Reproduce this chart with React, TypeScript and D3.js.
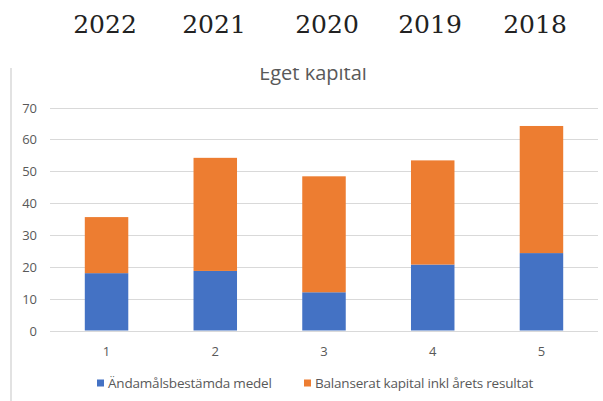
import React, { useEffect, useRef } from 'react';
import * as d3 from 'd3';

const years = ['2022', '2021', '2020', '2019', '2018'];
const categories = ['1', '2', '3', '4', '5'];
const seriesNames = ['Ändamålsbestämda medel', 'Balanserat kapital inkl årets resultat'];
const andamal = [18.0, 18.7, 12.0, 20.7, 24.3];
const balanserat = [17.6, 35.5, 36.4, 32.7, 39.9];
const yTicks = [0, 10, 20, 30, 40, 50, 60, 70];

const colors = ['#4472C4', '#ED7D31'];
// the year header is typed above the chart, not aligned with the bars
const yearCenters = [105, 214, 327, 430, 535];

const App = () => {
  const svgRef = useRef<SVGSVGElement>(null);

  useEffect(() => {
    const svg = d3.select(svgRef.current);
    svg.selectAll('*').remove();

    const font = '"Open Sans", sans-serif';

    svg.append('g')
      .selectAll('text')
      .data(years)
      .enter()
      .append('text')
      .attr('x', (d, i) => yearCenters[i])
      .attr('y', 33)
      .attr('text-anchor', 'middle')
      .attr('font-family', '"DejaVu Serif", serif')
      .attr('font-size', 25)
      .attr('fill', '#222')
      .text(d => d);

    // chart image, cut at the top
    svg.append('clipPath').attr('id', 'cut')
      .append('rect').attr('x', 0).attr('y', 68).attr('width', 603).attr('height', 340);
    const chart = svg.append('g').attr('clip-path', 'url(#cut)');

    chart.append('line')
      .attr('x1', 11).attr('x2', 11).attr('y1', 60).attr('y2', 401)
      .attr('stroke', '#d9d9d9').attr('stroke-width', 1.5);

    chart.append('text')
      .attr('x', 313).attr('y', 80)
      .attr('text-anchor', 'middle')
      .attr('font-family', font)
      .attr('font-size', 20)
      .attr('fill', '#595959')
      .text('Eget kapital');

    const x = d3.scaleBand().domain(categories).range([50, 598]).paddingInner(0.6).paddingOuter(0.32);
    const y = d3.scaleLinear().domain([0, 70]).range([330.5, 107.5]);

    chart.append('g')
      .selectAll('line')
      .data(yTicks)
      .enter()
      .append('line')
      .attr('x1', 50).attr('x2', 598)
      .attr('y1', d => Math.round(y(d)) + 0.5)
      .attr('y2', d => Math.round(y(d)) + 0.5)
      .attr('stroke', '#d9d9d9');

    chart.append('g')
      .selectAll('text')
      .data(yTicks)
      .enter()
      .append('text')
      .attr('x', 37)
      .attr('y', d => y(d) + 5)
      .attr('text-anchor', 'end')
      .attr('font-family', font)
      .attr('font-size', 13)
      .attr('fill', '#595959')
      .text(d => d);

    const rows = categories.map((c, i) => ({ cat: c, a: andamal[i], b: balanserat[i] }));
    const stacked = d3.stack<any>().keys(['a', 'b'])(rows);

    chart.append('g')
      .selectAll('g')
      .data(stacked)
      .enter()
      .append('g')
      .attr('fill', (d, i) => colors[i])
      .selectAll('rect')
      .data(d => d)
      .enter()
      .append('rect')
      .attr('x', d => x(d.data.cat)!)
      .attr('width', x.bandwidth())
      .attr('y', d => y(d[1]))
      .attr('height', d => y(d[0]) - y(d[1]));

    chart.append('g')
      .selectAll('text')
      .data(categories)
      .enter()
      .append('text')
      .attr('x', d => x(d)! + x.bandwidth() / 2)
      .attr('y', 356)
      .attr('text-anchor', 'middle')
      .attr('font-family', font)
      .attr('font-size', 13)
      .attr('fill', '#595959')
      .text(d => d);

    // legend
    const legendX = [97, 304];
    const legend = chart.append('g')
      .selectAll('g')
      .data(seriesNames)
      .enter()
      .append('g')
      .attr('transform', (d, i) => `translate(${legendX[i]},383)`);
    legend.append('rect')
      .attr('x', 0).attr('y', -3.5).attr('width', 7).attr('height', 7)
      .attr('fill', (d, i) => colors[i]);
    legend.append('text')
      .attr('x', 11).attr('y', 4.5)
      .attr('font-family', font)
      .attr('font-size', 13.5)
      .attr('letter-spacing', -0.2)
      .attr('fill', '#595959')
      .text(d => d);
  }, []);

  return (
    <svg ref={svgRef} width={603} height={401}
      style={{ position: 'absolute', left: 0, top: 0, background: '#fff' }} />
  );
};

export default App;
